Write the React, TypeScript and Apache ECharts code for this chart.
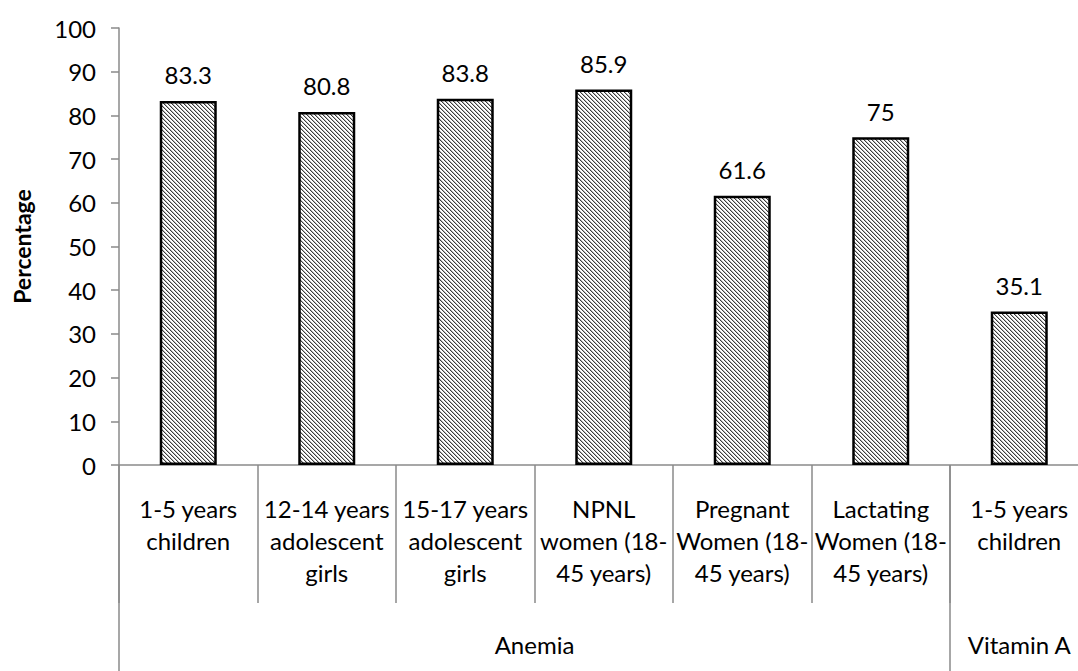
import React, { useEffect, useRef } from "react";
import * as echarts from "echarts";

const categories = [
  "1-5 years\nchildren",
  "12-14 years\nadolescent\ngirls",
  "15-17 years\nadolescent\ngirls",
  "NPNL\nwomen (18-\n45 years)",
  "Pregnant\nWomen (18-\n45 years)",
  "Lactating\nWomen (18-\n45 years)",
  "1-5 years\nchildren",
];
const values = [83.3, 80.8, 83.8, 85.9, 61.6, 75, 35.1];
const groups = ["Anemia", "Vitamin A"];
const groupSizes = [6, 1];
const yTicks = { min: 0, max: 100, interval: 10 };

const FONT = "Lato, 'Open Sans', sans-serif";
const AXIS_GRAY = "#8a8a8a";
const FS = 24;

function makeHatch(): HTMLCanvasElement {
  const c = document.createElement("canvas");
  c.width = 8;
  c.height = 8;
  const ctx = c.getContext("2d")!;
  const img = ctx.createImageData(8, 8);
  for (let y = 0; y < 8; y++) {
    for (let x = 0; x < 8; x++) {
      const d = (((x - y) % 4) + 4) % 4;
      let v = 255;
      if (d === 0) v = 60;
      else if (d === 1) v = 185;
      const i = (y * 8 + x) * 4;
      img.data[i] = v;
      img.data[i + 1] = v;
      img.data[i + 2] = v;
      img.data[i + 3] = 255;
    }
  }
  ctx.putImageData(img, 0, 0);
  return c;
}

export default function App() {
  const ref = useRef<HTMLDivElement>(null);
  useEffect(() => {
    if (!ref.current) return;
    const chart = echarts.init(ref.current, undefined, { renderer: "svg" });
    const total = groupSizes.reduce((a, b) => a + b, 0);
    const groupCenters: number[] = [];
    const groupEdges: number[] = [0];
    let acc = 0;
    groupSizes.forEach((s) => {
      groupCenters.push(acc + s / 2);
      acc += s;
      groupEdges.push(acc);
    });
    const hatch = makeHatch();
    chart.setOption({
      animation: false,
      grid: { left: 119, top: 28, bottom: 206, right: 11.5 },
      xAxis: [
        {
          type: "category",
          data: categories,
          boundaryGap: true,
          axisLine: { show: true, lineStyle: { color: AXIS_GRAY, width: 1.5 } },
          axisTick: {
            show: true,
            length: 138,
            interval: 0,
            lineStyle: { color: AXIS_GRAY, width: 1.5 },
          },
          axisLabel: {
            interval: 0,
            margin: 27,
            fontFamily: FONT,
            fontSize: FS,
            lineHeight: 32,
            color: "#000",
            align: "center",
          },
        },
        {
          type: "value",
          min: 0,
          max: total,
          position: "bottom",
          axisLine: { show: false },
          splitLine: { show: false },
          axisTick: {
            show: true,
            customValues: groupEdges,
            length: 210,
            lineStyle: { color: AXIS_GRAY, width: 1.5 },
          },
          axisLabel: {
            customValues: groupCenters,
            margin: 167,
            fontFamily: FONT,
            fontSize: FS,
            color: "#000",
            formatter: (v: number) => {
              const i = groupCenters.findIndex((c) => Math.abs(c - v) < 1e-6);
              return i >= 0 ? groups[i] : "";
            },
          },
        },
      ],
      yAxis: {
        type: "value",
        min: yTicks.min,
        max: yTicks.max,
        interval: yTicks.interval,
        name: "Percentage",
        nameLocation: "middle",
        nameGap: 86,
        nameTextStyle: { fontFamily: FONT, fontSize: 23, fontWeight: "bold", color: "#000" },
        axisLine: { show: true, lineStyle: { color: AXIS_GRAY, width: 1.5 } },
        axisTick: { show: true, length: 8, lineStyle: { color: AXIS_GRAY, width: 1.5 } },
        axisLabel: { margin: 23, fontFamily: FONT, fontSize: FS, color: "#000" },
        splitLine: { show: false },
      },
      series: [
        {
          type: "bar",
          xAxisIndex: 0,
          data: values,
          barWidth: 57,
          itemStyle: {
            color: { image: hatch, repeat: "repeat" },
            borderColor: "#000",
            borderWidth: 2.5,
          },
          label: {
            show: true,
            position: "top",
            distance: 14,
            fontFamily: FONT,
            fontSize: FS,
            color: "#000",
          },
        },
      ],
    });
    return () => chart.dispose();
  }, []);
  return (
    <div
      style={{
        position: "fixed",
        left: 0,
        top: 0,
        width: "100vw",
        height: "100vh",
        overflow: "hidden",
        background: "#fff",
      }}
    >
      <div ref={ref} style={{ width: 1100, height: 671 }} />
    </div>
  );
}
